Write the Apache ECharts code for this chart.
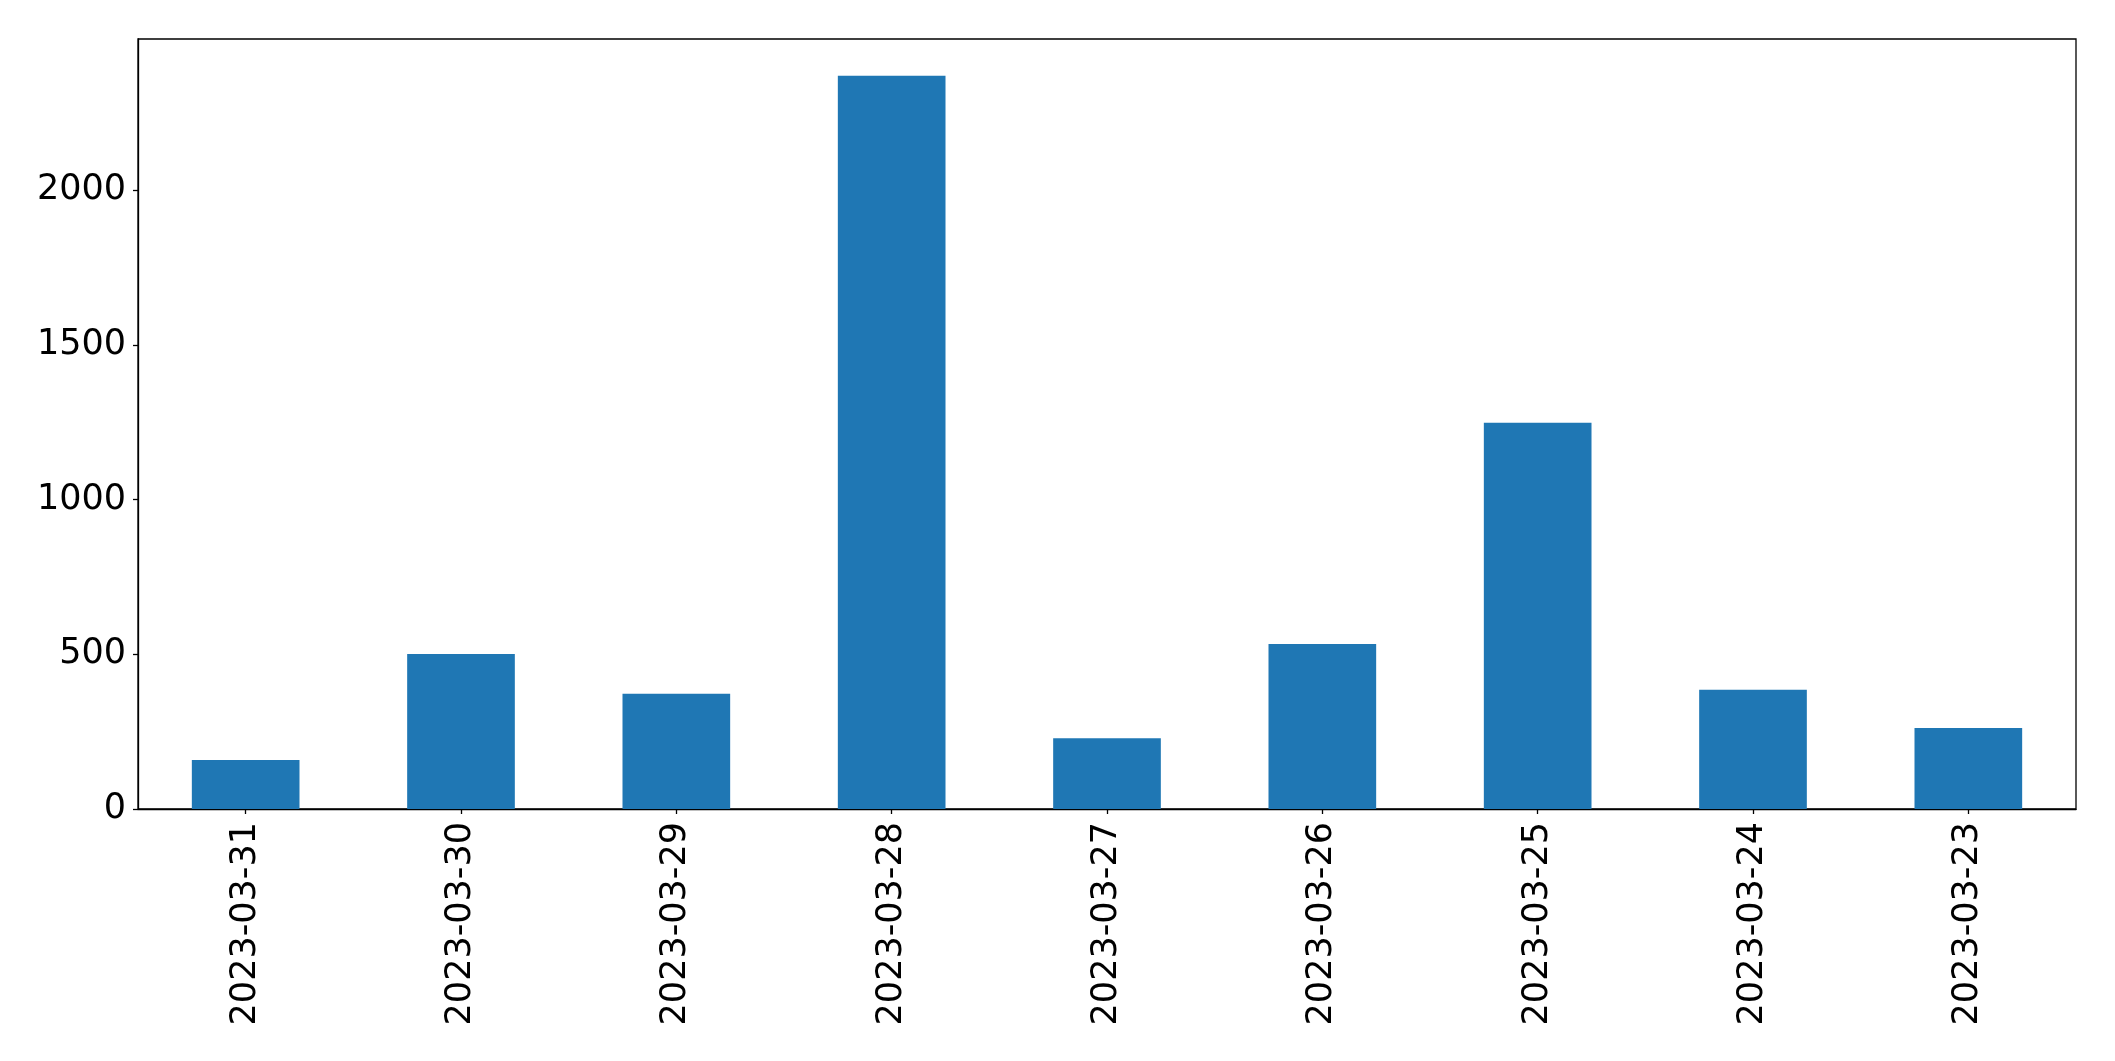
<!DOCTYPE html>
<html>
<head>
<meta charset="utf-8">
<script src="https://cdn.jsdelivr.net/npm/echarts@6/dist/echarts.min.js"></script>
<style>
html,body{margin:0;padding:0;background:#fff;}
#chart{width:2115px;height:1061px;}
</style>
</head>
<body>
<div id="chart"></div>
<script>
const categories = ['2023-03-31','2023-03-30','2023-03-29','2023-03-28','2023-03-27','2023-03-26','2023-03-25','2023-03-24','2023-03-23'];
const values = [158, 501, 372, 2369, 229, 533, 1248, 385, 262];
const yTicks = [0, 500, 1000, 1500, 2000];

const chart = echarts.init(document.getElementById('chart'), null, {renderer: 'canvas'});
const font = 'DejaVu Sans';
chart.setOption({
  animation: false,
  backgroundColor: '#fff',
  grid: {
    left: 138, right: 39, top: 39, bottom: 252,
    show: true, borderColor: '#000', borderWidth: 1.3, backgroundColor: 'transparent',
    containLabel: false
  },
  xAxis: {
    type: 'category',
    data: categories,
    axisLine: {show: true, lineStyle: {color: '#000', width: 1.3}},
    axisTick: {show: true, alignWithLabel: true, length: 5, lineStyle: {color: '#000', width: 1.3}},
    axisLabel: {rotate: 90, margin: 13, fontFamily: font, fontSize: 35, color: '#000'},
    splitLine: {show: false}
  },
  yAxis: {
    type: 'value',
    min: 0, max: 2488,
    axisLine: {show: true, lineStyle: {color: '#000', width: 1.3}},
    axisTick: {show: true, length: 5, lineStyle: {color: '#000', width: 1.3}, customValues: yTicks},
    axisLabel: {margin: 12, fontFamily: font, fontSize: 35, color: '#000', customValues: yTicks,
      padding: [8, 0, 0, 0],
      formatter: function (v) { return String(v); }},
    splitLine: {show: false}
  },
  series: [{
    type: 'bar',
    data: values,
    barWidth: '50%',
    itemStyle: {color: '#1f77b4'}
  }]
});
</script>
</body>
</html>
